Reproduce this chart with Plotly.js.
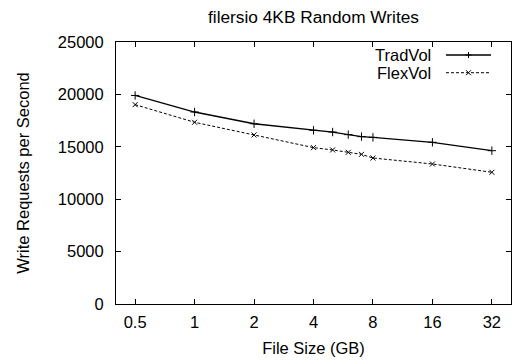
<!DOCTYPE html>
<html>
<head>
<meta charset="utf-8">
<script src="https://cdn.plot.ly/plotly-3.0.1.min.js"></script>
<style>html,body{margin:0;padding:0;background:#fff;}#chart{width:512px;height:360px;}</style>
</head>
<body>
<div id="chart"></div>
<script>
const fileSizes = [0.5, 1, 2, 4, 5, 6, 7, 8, 16, 32];
const tradVol = [19900, 18320, 17200, 16570, 16410, 16160, 15970, 15900, 15430, 14630];
const flexVol = [19020, 17340, 16130, 14920, 14700, 14470, 14280, 13930, 13360, 12570];
const xTicks = [0.5, 1, 2, 4, 8, 16, 32];
const xTickText = ['0.5', '1', '2', '4', '8', '16', '32'];
const seriesNames = ['TradVol', 'FlexVol'];

const FONT = 'Liberation Sans, Arial, Helvetica, sans-serif';
const FS = 16.5;

const traces = [
  {
    x: fileSizes, y: tradVol, name: seriesNames[0], type: 'scatter', mode: 'lines+markers',
    line: {color: '#000', width: 1.3},
    marker: {symbol: 'cross-thin', size: 6, color: '#000', line: {color: '#000', width: 1}}
  },
  {
    x: fileSizes, y: flexVol, name: seriesNames[1], type: 'scatter', mode: 'lines+markers',
    line: {color: '#000', width: 1, dash: '3px,2px'},
    marker: {symbol: 'x-thin', size: 5, color: '#000', line: {color: '#000', width: 1}}
  }
];

// gnuplot-style key: label on the left, line sample on the right
const keyTextX = 0.8025, keyX0 = 0.8354, keyX1 = 0.9494, keyMX = 0.8924;
const keyRows = [0.9504, 0.8828];
const annotations = [];
const shapes = [];
seriesNames.forEach((nm, i) => {
  const yr = keyRows[i];
  annotations.push({text: nm, xref: 'paper', yref: 'paper', x: keyTextX, y: yr,
    xanchor: 'right', yanchor: 'middle', showarrow: false,
    font: {family: FONT, size: FS, color: '#000'}});
  shapes.push({type: 'line', xref: 'paper', yref: 'paper', x0: keyX0, x1: keyX1, y0: yr, y1: yr,
    line: {color: '#000', width: i === 0 ? 1.3 : 1, dash: i === 0 ? 'solid' : '3px,2px'}});
  if (i === 0) {
    shapes.push({type: 'line', xref: 'paper', yref: 'paper', xsizemode: 'pixel', ysizemode: 'pixel',
      xanchor: keyMX, yanchor: yr, x0: -3, x1: 3, y0: 0, y1: 0, line: {color: '#000', width: 1}});
    shapes.push({type: 'line', xref: 'paper', yref: 'paper', xsizemode: 'pixel', ysizemode: 'pixel',
      xanchor: keyMX, yanchor: yr, x0: 0, x1: 0, y0: -3, y1: 3, line: {color: '#000', width: 1}});
  } else {
    shapes.push({type: 'line', xref: 'paper', yref: 'paper', xsizemode: 'pixel', ysizemode: 'pixel',
      xanchor: keyMX, yanchor: yr, x0: -2.5, x1: 2.5, y0: -2.5, y1: 2.5, line: {color: '#000', width: 1}});
    shapes.push({type: 'line', xref: 'paper', yref: 'paper', xsizemode: 'pixel', ysizemode: 'pixel',
      xanchor: keyMX, yanchor: yr, x0: -2.5, x1: 2.5, y0: 2.5, y1: -2.5, line: {color: '#000', width: 1}});
  }
});

const layout = {
  width: 512, height: 360,
  margin: {l: 116, r: 1, t: 42, b: 56},
  paper_bgcolor: '#fff', plot_bgcolor: '#fff',
  font: {family: FONT, size: FS, color: '#000'},
  title: {text: 'filersio 4KB Random Writes', font: {family: FONT, size: 17.3, color: '#000'},
          x: 0.5, xref: 'paper', xanchor: 'center', y: 1 - 17/360, yref: 'container', yanchor: 'middle'},
  xaxis: {
    type: 'log', range: [Math.log10(0.4), Math.log10(40)],
    tickvals: xTicks, ticktext: xTickText,
    ticks: 'inside', ticklen: 5, tickcolor: '#000', tickwidth: 1,
    showline: true, linecolor: '#000', linewidth: 1, mirror: 'ticks',
    showgrid: false, zeroline: false,
    ticklabelstandoff: 3,
    title: {text: 'File Size (GB)', font: {family: FONT, size: FS, color: '#000'}, standoff: 12}
  },
  yaxis: {
    range: [0, 25000], dtick: 5000, tick0: 0, tickformat: 'd',
    ticks: 'inside', ticklen: 5, tickcolor: '#000', tickwidth: 1,
    showline: true, linecolor: '#000', linewidth: 1, mirror: 'ticks',
    showgrid: false, zeroline: false,
    ticklabelstandoff: 8,
    title: {text: 'Write Requests per Second', font: {family: FONT, size: FS, color: '#000'}, standoff: 24}
  },
  showlegend: false,
  annotations: annotations,
  shapes: shapes
};

Plotly.newPlot('chart', traces, layout, {displayModeBar: false, staticPlot: true});
</script>
</body>
</html>
